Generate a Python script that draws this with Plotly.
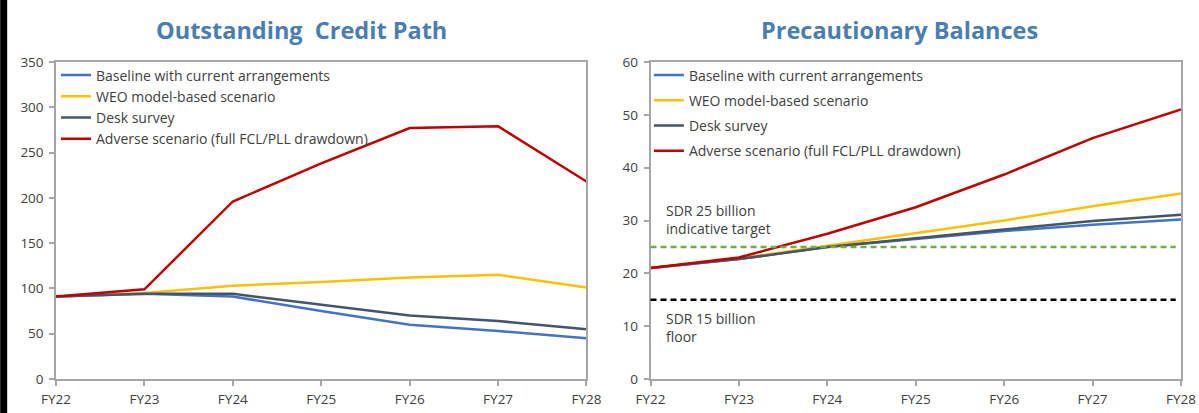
import plotly.graph_objects as go
from plotly.subplots import make_subplots

years = ["FY22", "FY23", "FY24", "FY25", "FY26", "FY27", "FY28"]

# Outstanding credit (SDR billion)
credit_baseline = [91, 94, 91, 75, 60, 53, 45]
credit_weo = [91, 95, 103, 107, 112, 115, 101]
credit_desk = [91, 94, 94, 82, 70, 64, 55]
credit_adverse = [91, 99, 196, 238, 277, 279, 218]

# Precautionary balances (SDR billion)
bal_baseline = [21, 22.7, 25, 26.5, 28, 29.2, 30.2]
bal_weo = [21, 22.8, 25.2, 27.6, 30, 32.7, 35.1]
bal_desk = [21, 22.7, 25, 26.7, 28.3, 29.9, 31.1]
bal_adverse = [21, 23, 27.5, 32.5, 38.7, 45.6, 51]

target_level = 25
floor_level = 15

series_names = [
    "Baseline with current arrangements",
    "WEO model-based scenario",
    "Desk survey",
    "Adverse scenario (full FCL/PLL drawdown)",
]
colors = ["#4472C4", "#FFC000", "#44546A", "#C00000"]

fig = make_subplots(rows=1, cols=2, horizontal_spacing=0.0569)

left_data = [credit_baseline, credit_weo, credit_desk, credit_adverse]
right_data = [bal_baseline, bal_weo, bal_desk, bal_adverse]

for i, (name, col) in enumerate(zip(series_names, colors)):
    fig.add_trace(go.Scatter(x=years, y=left_data[i], name=name, mode="lines",
                             line=dict(color=col, width=2.5),
                             legend="legend"), row=1, col=1)
for i, (name, col) in enumerate(zip(series_names, colors)):
    fig.add_trace(go.Scatter(x=years, y=right_data[i], name=name, mode="lines",
                             line=dict(color=col, width=2.5),
                             legend="legend2", legendgroup=f"r{i}"), row=1, col=2)

# reference levels
fig.add_shape(type="line", xref="x2 domain", yref="y2", x0=0, x1=0.99,
              y0=target_level, y1=target_level,
              line=dict(color="#70AD47", width=2.5, dash="6px,4px"))
fig.add_shape(type="line", xref="x2 domain", yref="y2", x0=0, x1=0.99,
              y0=floor_level, y1=floor_level,
              line=dict(color="#000000", width=2.5, dash="6px,4px"))

ann_font = dict(family="Open Sans", size=14, color="#404040")
fig.add_annotation(xref="x2 domain", yref="y2", x=0.026, y=30.2, xanchor="left",
                   yanchor="middle", align="left", showarrow=False,
                   text="SDR 25 billion<br>indicative target", font=ann_font)
fig.add_annotation(xref="x2 domain", yref="y2", x=0.026, y=9.8, xanchor="left",
                   yanchor="middle", align="left", showarrow=False,
                   text="SDR 15 billion<br>floor", font=ann_font)

title_font = dict(family="Open Sans", size=23.5, color="#4A7EB0")
fig.add_annotation(xref="paper", yref="paper", x=0.218, y=1.101, showarrow=False,
                   text="<b>Outstanding  Credit Path</b>", font=title_font,
                   xanchor="center", yanchor="middle")
fig.add_annotation(xref="paper", yref="paper", x=0.75, y=1.101, showarrow=False,
                   text="<b>Precautionary Balances</b>", font=title_font,
                   xanchor="center", yanchor="middle")

# left border rule
fig.add_shape(type="line", xref="paper", yref="paper", x0=-0.0465, x1=-0.0465,
              y0=-0.2, y1=1.3, line=dict(color="#000000", width=7))

axis_common = dict(showline=True, linecolor="#A6A6A6", linewidth=1.5, mirror=True,
                   showgrid=False, zeroline=False, ticks="outside", ticklen=5,
                   tickcolor="#A6A6A6", tickwidth=1.5, automargin=False,
                   tickfont=dict(family="Open Sans", size=13.5, color="#404040"))

fig.update_xaxes(type="category", range=[0, 6], ticklabelstandoff=2, **axis_common)
fig.update_yaxes(ticklabelstandoff=3, **axis_common)
fig.update_yaxes(range=[0, 350], dtick=50, row=1, col=1)
fig.update_yaxes(range=[0, 60], dtick=10, row=1, col=2)

legend_font = dict(family="Open Sans", size=14, color="#404040")
fig.update_layout(
    width=1199, height=413,
    margin=dict(l=56, r=18, t=62, b=34, autoexpand=False),
    paper_bgcolor="white", plot_bgcolor="white",
    legend=dict(x=0.0, y=1.008, xanchor="left", yanchor="top", font=legend_font,
                bgcolor="rgba(0,0,0,0)", itemwidth=30, tracegroupgap=0),
    legend2=dict(x=0.527, y=1.008, xanchor="left", yanchor="top", font=legend_font,
                 bgcolor="rgba(0,0,0,0)", tracegroupgap=4, itemwidth=30),
)

fig.write_html("out.html")
